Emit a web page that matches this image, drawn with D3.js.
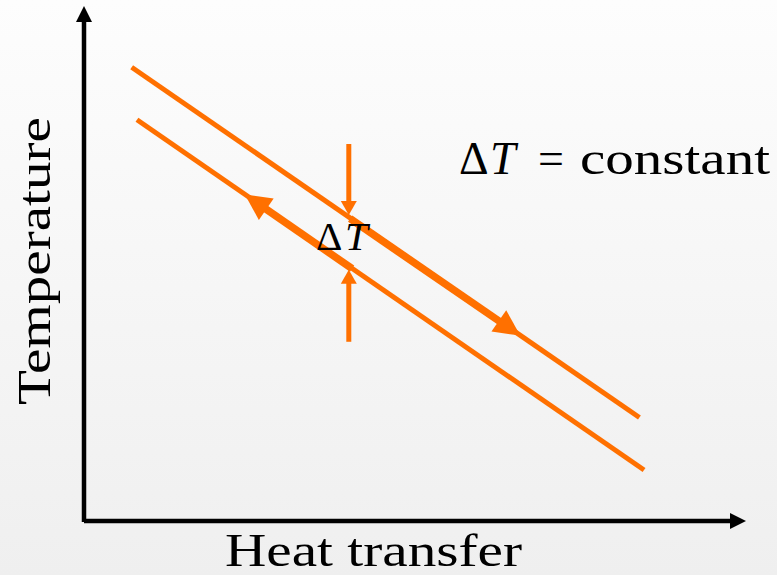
<!DOCTYPE html>
<html>
<head>
<meta charset="utf-8">
<script src="https://cdn.jsdelivr.net/npm/d3@7"></script>
<style>
  html, body { margin: 0; padding: 0; background: #f6f6f6; }
  svg { display: block; }
  text { font-family: "Liberation Serif", "DejaVu Serif", serif; fill: #000; }
</style>
</head>
<body>
<svg id="chart" width="777" height="575"></svg>
<script>
// Data (chart units: 0..100 on both axes)
const xLabel = "Heat transfer";
const yLabel = "Temperature";

// hot stream (upper line) and cold stream (lower line), end points
const hotQ = [7.2, 83.9];
const hotT = [88.1, 20.1];
const coldQ = [8.0, 84.6];
const coldT = [77.9, 9.9];

// direction arrows laid on the streams: [tail, tip]
const hotArrowQ = [40.2, 65.9];
const hotArrowT = [58.7, 36.0];
const coldArrowQ = [40.5, 24.3];
const coldArrowT = [49.0, 63.4];

// ΔT markers: position on x, then [tail, tip] for the top and bottom arrows
const deltaQ = 40.0;
const deltaTopT = [73.2, 59.4];
const deltaBottomT = [34.8, 48.8];

const noteText = ["Δ", "T", "=", "constant"];

// Sizes
const width = 777, height = 575;
const orange = "#ff7000";

const svg = d3.select("#chart");

const x = d3.scaleLinear().domain([0, 100]).range([84, 746]);
const y = d3.scaleLinear().domain([0, 100]).range([521, 6]);

// background gradient
const grad = svg.append("defs").append("linearGradient")
    .attr("id", "bg").attr("x1", 0).attr("y1", 0).attr("x2", 0).attr("y2", 1);
grad.append("stop").attr("offset", "0%").attr("stop-color", "#fdfdfd");
grad.append("stop").attr("offset", "100%").attr("stop-color", "#efefef");
svg.append("rect").attr("width", width).attr("height", height).attr("fill", "url(#bg)");

// triangle head with its tip at (tx, ty), pointing along angle a
function head(tx, ty, a, len, w) {
    const bx = tx - len * Math.cos(a), by = ty - len * Math.sin(a);
    const px = -Math.sin(a) * w / 2, py = Math.cos(a) * w / 2;
    return `M${tx},${ty}L${bx + px},${by + py}L${bx - px},${by - py}Z`;
}

function arrow(g, x0, y0, x1, y1, color, sw, len, w) {
    const a = Math.atan2(y1 - y0, x1 - x0);
    const ex = x1 - (len - 2) * Math.cos(a), ey = y1 - (len - 2) * Math.sin(a);
    g.append("line")
        .attr("x1", x0).attr("y1", y0).attr("x2", ex).attr("y2", ey)
        .attr("stroke", color).attr("stroke-width", sw);
    g.append("path").attr("d", head(x1, y1, a, len, w)).attr("fill", color);
}

// Axes
const axes = svg.append("g");
arrow(axes, x(0), y(0) + 1, x(0), y(100), "#000", 4.5, 16, 16);
arrow(axes, x(0), y(0), x(100), y(0), "#000", 4.5, 16, 16);

// Streams
const line = d3.line().x(d => x(d[0])).y(d => y(d[1]));
const streams = svg.append("g");
streams.append("path")
    .datum(d3.zip(hotQ, hotT))
    .attr("d", line).attr("fill", "none")
    .attr("stroke", orange).attr("stroke-width", 5);
streams.append("path")
    .datum(d3.zip(coldQ, coldT))
    .attr("d", line).attr("fill", "none")
    .attr("stroke", orange).attr("stroke-width", 5);

arrow(streams, x(hotArrowQ[0]), y(hotArrowT[0]), x(hotArrowQ[1]), y(hotArrowT[1]), orange, 7.5, 26, 26);
arrow(streams, x(coldArrowQ[0]), y(coldArrowT[0]), x(coldArrowQ[1]), y(coldArrowT[1]), orange, 7.5, 26, 26);

// ΔT markers
arrow(streams, x(deltaQ), y(deltaTopT[0]), x(deltaQ), y(deltaTopT[1]), orange, 5, 14, 16);
arrow(streams, x(deltaQ), y(deltaBottomT[0]), x(deltaQ), y(deltaBottomT[1]), orange, 5, 14, 16);

// Labels
svg.append("text")
    .attr("x", 225).attr("y", 566)
    .attr("textLength", 297).attr("lengthAdjust", "spacingAndGlyphs")
    .style("font-size", "46px")
    .text(xLabel);

svg.append("text")
    .attr("transform", "translate(50,405) rotate(-90)")
    .attr("textLength", 288).attr("lengthAdjust", "spacingAndGlyphs")
    .style("font-size", "46px")
    .text(yLabel);

// middle ΔT
const mid = svg.append("text").attr("y", 250).style("font-size", "41px");
mid.append("tspan").attr("x", 316).text(noteText[0]);
mid.append("tspan").attr("x", 345).style("font-style", "italic").text(noteText[1]);

// ΔT = constant
const note = svg.append("text").attr("y", 174).style("font-size", "46px");
note.append("tspan").attr("x", 459).text(noteText[0]);
note.append("tspan").attr("x", 490).style("font-style", "italic").text(noteText[1]);
note.append("tspan").attr("x", 538).text(noteText[2]);
note.append("tspan").attr("x", 580)
    .attr("textLength", 190).attr("lengthAdjust", "spacingAndGlyphs")
    .text(noteText[3]);
</script>
</body>
</html>
